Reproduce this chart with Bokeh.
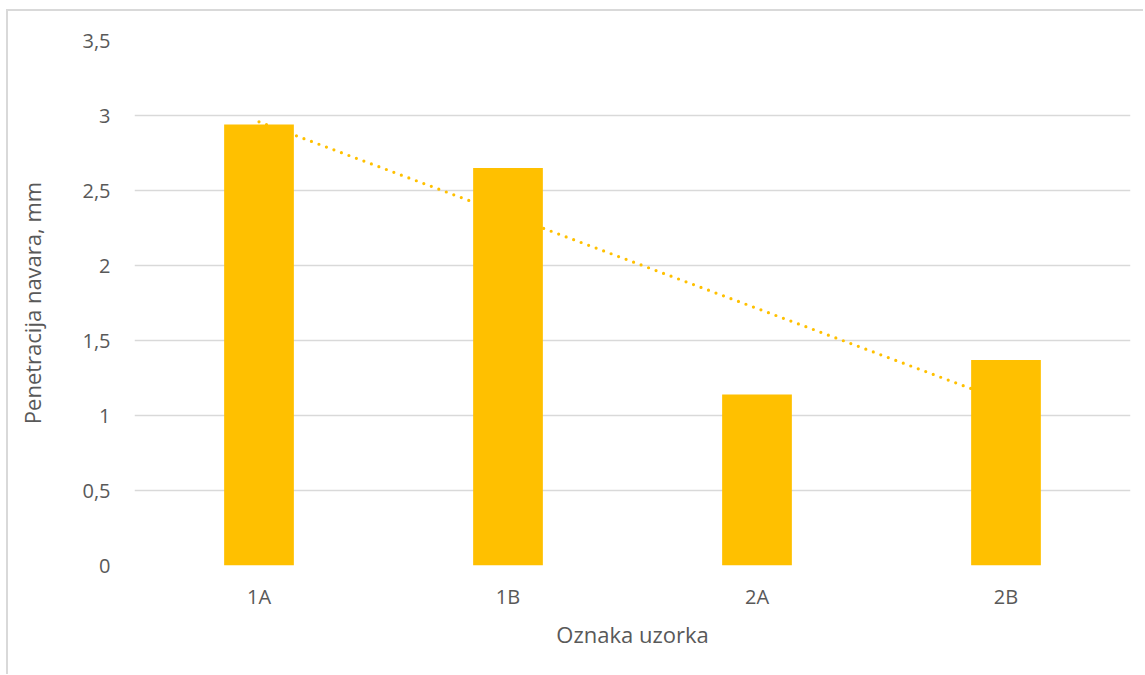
import numpy as np
from bokeh.plotting import figure
from bokeh.models import Range1d, FixedTicker, ColumnDataSource
from bokeh.embed import file_html
from bokeh.resources import INLINE

categories = ["1A", "1B", "2A", "2B"]
values = [2.94, 2.65, 1.14, 1.37]
y_ticks = [0, 0.5, 1, 1.5, 2, 2.5, 3, 3.5]
y_tick_labels = ["0", "0,5", "1", "1,5", "2", "2,5", "3", "3,5"]

xs = list(range(1, len(categories) + 1))

# linear trendline (least squares, like Excel's linear trendline)
slope, intercept = np.polyfit(xs, values, 1)
trend_x = [xs[0], xs[-1]]
trend_y = [slope * x + intercept for x in trend_x]

FONT = "Open Sans"
TXT = "#595959"
GRID = "#d9d9d9"
GOLD = "#FFC000"

p = figure(width=1137, height=665, output_backend="svg", toolbar_location=None,
           x_range=Range1d(0.5, 4.5), y_range=Range1d(0, 3.5),
           min_border_left=126, min_border_right=15, min_border_top=29, min_border_bottom=111)
p.outline_line_color = None
p.background_fill_color = "white"
p.border_fill_color = "white"
p.styles = {"border-left": "2px solid #d9d9d9", "border-top": "2px solid #d9d9d9",
            "margin-left": "6px", "margin-top": "9px"}

src = ColumnDataSource(dict(x=xs, top=values))
p.line(trend_x, trend_y, line_color=GOLD, line_width=3.2, line_dash="0 8", line_cap="round")
p.vbar(x="x", top="top", width=0.28, source=src, fill_color=GOLD, line_color=None)

p.xaxis.ticker = FixedTicker(ticks=xs)
p.xaxis.major_label_overrides = {x: c for x, c in zip(xs, categories)}
p.yaxis.ticker = FixedTicker(ticks=y_ticks)
p.yaxis.major_label_overrides = {t: l for t, l in zip(y_ticks, y_tick_labels)}

for ax in (p.xaxis, p.yaxis):
    ax.axis_line_color = None
    ax.major_tick_line_color = None
    ax.minor_tick_line_color = None
    ax.major_label_text_font = FONT
    ax.major_label_text_font_size = "20px"
    ax.major_label_text_color = TXT
    ax.axis_label_text_font = FONT
    ax.axis_label_text_font_size = "22px"
    ax.axis_label_text_color = TXT
    ax.axis_label_text_font_style = "normal"

p.xaxis.axis_label = "Oznaka uzorka"
p.yaxis.axis_label = "Penetracija navara, mm"
p.xaxis.major_label_standoff = 11
p.xaxis.axis_label_standoff = 6
p.yaxis.major_label_standoff = 18
p.yaxis.axis_label_standoff = 32

p.xgrid.grid_line_color = None
p.ygrid.ticker = FixedTicker(ticks=y_ticks)
p.ygrid.grid_line_color = GRID
p.ygrid.grid_line_width = 1.5

open("out.html", "w").write(file_html(p, INLINE))
